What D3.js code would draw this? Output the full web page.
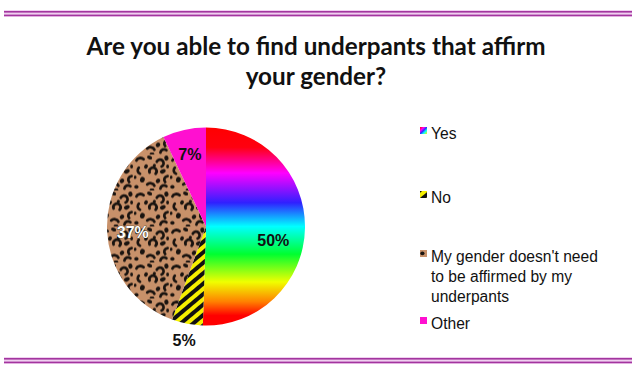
<!DOCTYPE html>
<html>
<head>
<meta charset="utf-8">
<script src="https://cdn.jsdelivr.net/npm/d3@7"></script>
<style>
  body { margin: 0; background: #fff; }
  svg { display: block; }
</style>
</head>
<body>
<figure id="pie" style="margin:0"></figure>
<script>
// data
const categories = ["Yes", "No", "My gender doesn't need to be affirmed by my underpants", "Other"];
const legendLines = [["Yes"], ["No"], ["My gender doesn't need", "to be affirmed by my", "underpants"], ["Other"]];
const values = [50, 5, 37, 7];
const labels = ["50%", "5%", "37%", "7%"];
const titleLines = ["Are you able to find underpants that affirm", "your gender?"];

const width = 632, height = 374;
const cx = 206, cy = 226.5, radius = 99;

const svg = d3.select("figure#pie")
  .append("svg")
  .attr("width", width)
  .attr("height", height);

const defs = svg.append("defs");

// rainbow fill for "Yes" (coordinates relative to pie centre)
const rainbow = defs.append("linearGradient")
  .attr("id", "rainbow")
  .attr("gradientUnits", "userSpaceOnUse")
  .attr("x1", 0).attr("y1", -radius)
  .attr("x2", 0).attr("y2", radius);
[["0", "#ff0000"], ["0.1", "#ff0010"], ["0.23", "#ff00ff"], ["0.38", "#3020ff"], ["0.5", "#00ffff"], ["0.64", "#00ff30"], ["0.78", "#f0ff00"], ["0.88", "#ff8000"], ["0.95", "#ff0000"], ["1", "#ff0000"]]
  .forEach(s => rainbow.append("stop").attr("offset", s[0]).attr("stop-color", s[1]));

const rainbowSw = defs.append("linearGradient")
  .attr("id", "rainbowSw")
  .attr("x1", 0).attr("y1", 0).attr("x2", 1).attr("y2", 1);
[["0", "#ff0000"], ["0.3", "#ff00ff"], ["0.5", "#3030ff"], ["0.7", "#00ffff"], ["1", "#ffff00"]]
  .forEach(s => rainbowSw.append("stop").attr("offset", s[0]).attr("stop-color", s[1]));

// yellow / black hazard stripes for "No"
const stripes = defs.append("pattern")
  .attr("id", "stripes")
  .attr("patternUnits", "userSpaceOnUse")
  .attr("width", 8).attr("height", 8)
  .attr("patternTransform", "rotate(-40)");
stripes.append("rect").attr("width", 8).attr("height", 8).attr("fill", "#f5f000");
stripes.append("rect").attr("width", 8).attr("height", 4).attr("fill", "#111");

// leopard print tile
const leo = defs.append("pattern")
  .attr("id", "leopard")
  .attr("patternUnits", "userSpaceOnUse")
  .attr("width", 30).attr("height", 30)
  .attr("patternTransform", "scale(1.2)");
leo.append("rect").attr("width", 30).attr("height", 30).attr("fill", "#c8916a");
const rosettes = [
  "M2,5 a3.5,3 0 0,1 6,-1",
  "M19,6 a3,3 0 1,1 4,4",
  "M4,11 a3,3 0 0,0 1,5",
  "M13,15 a3,3 0 1,1 5,1",
  "M28,18 a3,3 0 0,0 -2,5",
  "M11,25 a3.5,3 0 0,1 6,1",
  "M22,28.5 a3,3 0 0,1 5,-2"
];
leo.selectAll("path.ros").data(rosettes).enter().append("path")
  .attr("class", "ros")
  .attr("d", d => d)
  .attr("fill", "none")
  .attr("stroke", "#1a1410")
  .attr("stroke-width", 2.3)
  .attr("stroke-linecap", "round");
const blobs = [
  [13, 2.5, 2.2, 1.6, 20], [27, 3, 1.8, 2.2, -10], [10, 10, 1.5, 1.9, 30],
  [24, 14, 2.5, 1.7, -25], [17, 9, 1.3, 1.3, 0], [7, 21, 2, 2.4, 15],
  [20, 22, 1.7, 2.1, 40], [2, 27, 1.8, 1.5, 0], [15, 29.5, 2, 1.2, 0],
  [28, 10, 1.2, 1.6, 0], [1, 19, 1.1, 1.5, 0]
];
leo.selectAll("ellipse").data(blobs).enter().append("ellipse")
  .attr("rx", d => d[2]).attr("ry", d => d[3])
  .attr("transform", d => "translate(" + d[0] + "," + d[1] + ") rotate(" + d[4] + ")")
  .attr("fill", "#1a1410");

const fills = ["url(#rainbow)", "url(#stripes)", "url(#leopard)", "#ff10d0"];
const swatchFills = ["url(#rainbowSw)", "url(#stripes)", "url(#leopard)", "#ff10d0"];

// border lines top and bottom
[11, 358].forEach(y => {
  svg.append("rect").attr("x", 4).attr("y", y - 1).attr("width", width - 4).attr("height", 7).attr("fill", "#f0d0f0");
  svg.append("rect").attr("x", 4).attr("y", y).attr("width", width - 4).attr("height", 1.6).attr("fill", "#a3359f");
  svg.append("rect").attr("x", 4).attr("y", y + 3.6).attr("width", width - 4).attr("height", 1.6).attr("fill", "#a3359f");
});

// title
const title = svg.append("text")
  .attr("text-anchor", "middle")
  .style("font-family", "Lato, 'Open Sans', sans-serif")
  .style("font-weight", "bold")
  .style("font-size", "24px")
  .style("fill", "#111");
const tspans = title.selectAll("tspan")
  .data(titleLines)
  .enter()
  .append("tspan")
  .attr("x", 316)
  .attr("y", (d, i) => 55 + i * 30)
  .text(d => d);
// squeeze to the width of the original title
const ratio = 459 / tspans.nodes()[0].getComputedTextLength();
tspans.each(function () {
  const w = this.getComputedTextLength();
  d3.select(this).attr("textLength", w * ratio).attr("lengthAdjust", "spacingAndGlyphs");
});

// pie
const pie = d3.pie().sort(null).value(d => d);
const arcs = pie(values);
const arc = d3.arc().innerRadius(0).outerRadius(radius);

const g = svg.append("g").attr("transform", "translate(" + cx + "," + cy + ")");

g.selectAll("path.slice")
  .data(arcs)
  .enter()
  .append("path")
  .attr("class", "slice")
  .attr("d", arc)
  .attr("fill", (d, i) => fills[i]);

// slice labels
const labelRadius = [0.68, 1.17, 0.74, 0.74];
const labelShift = [13, 0, 2, -1];
g.selectAll("text.lbl")
  .data(arcs)
  .enter()
  .append("text")
  .attr("class", "lbl")
  .attr("transform", (d, i) => {
    const r = radius * labelRadius[i];
    const c = d3.arc().innerRadius(r).outerRadius(r).centroid(d);
    return "translate(" + c[0] + "," + (c[1] + labelShift[i]) + ")";
  })
  .attr("dy", "0.35em")
  .attr("text-anchor", "middle")
  .style("font-family", "'Liberation Sans', Arial, sans-serif")
  .style("font-weight", "bold")
  .style("font-size", "16px")
  .style("fill", (d, i) => i === 2 ? "#ffffff" : "#111")
  .style("stroke", (d, i) => i === 2 ? "#2a3020" : "none")
  .style("stroke-width", 0.7)
  .style("paint-order", "stroke")
  .text((d, i) => labels[i]);

// legend
const legendY = [134, 198, 257, 324];
const legend = svg.append("g").attr("transform", "translate(420,0)");
const items = legend.selectAll("g.item")
  .data(legendLines)
  .enter()
  .append("g")
  .attr("class", "item")
  .attr("transform", (d, i) => "translate(0," + legendY[i] + ")");

items.append("rect")
  .attr("x", 0).attr("y", -7)
  .attr("width", 7).attr("height", 7)
  .attr("fill", (d, i) => swatchFills[i]);

items.append("text")
  .style("font-family", "'Liberation Sans', Arial, sans-serif")
  .style("font-size", "15.6px")
  .style("fill", "#111")
  .selectAll("tspan")
  .data(d => d)
  .enter()
  .append("tspan")
  .attr("x", 11)
  .attr("y", (d, i) => 5 + i * 20)
  .text(d => d);
</script>
</body>
</html>
